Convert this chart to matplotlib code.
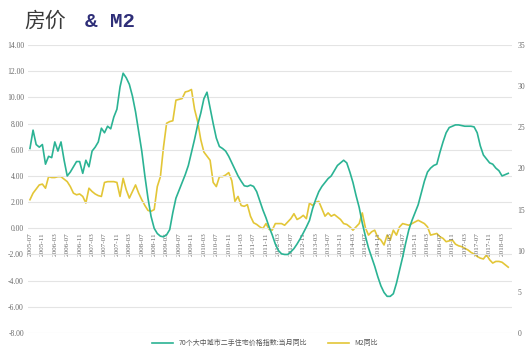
import matplotlib
matplotlib.use('Agg')
import matplotlib.pyplot as plt
import numpy as np

# monthly, 2005-07 .. 2018-05
start_year, start_month = 2005, 7

# 70个大中城市二手住宅价格指数:当月同比 (left axis, %)
house_yoy = [
    6.1, 7.5, 6.4, 6.2, 6.4, 4.9, 5.5, 5.4, 6.6, 5.9,
    6.6, 5.2, 4.0, 4.3, 4.7, 5.1, 5.1, 4.2, 5.2, 4.7,
    5.9, 6.2, 6.6, 7.65, 7.3, 7.8, 7.6, 8.5, 9.1, 10.8,
    11.85, 11.5, 11.0, 10.1, 8.9, 7.4, 5.9, 4.0, 2.3, 0.9,
    0.0, -0.4, -0.6, -0.65, -0.5, -0.1, 1.2, 2.3, 2.9, 3.5,
    4.1, 4.8, 5.8, 6.8, 7.9, 8.8, 9.9, 10.4, 9.2, 8.0,
    6.9, 6.25, 6.1, 5.9, 5.5, 5.0, 4.5, 4.0, 3.6, 3.25,
    3.2, 3.3, 3.2, 2.8, 2.1, 1.4, 0.8, 0.1, -0.5, -1.2,
    -1.7, -1.95, -2.0, -2.0, -1.8, -1.55, -1.2, -0.8, -0.36, 0.1,
    0.6, 1.5, 2.2, 2.8, 3.2, 3.5, 3.8, 4.0, 4.4, 4.8,
    5.0, 5.2, 5.0, 4.3, 3.5, 2.5, 1.6, 0.4, -0.6, -1.5,
    -2.2, -2.9, -3.7, -4.4, -4.9, -5.2, -5.2, -5.0, -4.2, -3.2,
    -2.2, -1.1, -0.1, 0.6, 1.2, 1.8, 2.7, 3.6, 4.3, 4.6,
    4.8, 4.9, 5.8, 6.6, 7.3, 7.7, 7.8, 7.9, 7.9, 7.85,
    7.8, 7.8, 7.8, 7.75, 7.3, 6.3, 5.6, 5.3, 5.0, 4.9,
    4.6, 4.4, 4.0, 4.1, 4.2,
]

# M2同比 (right axis, %)
m2_yoy = [
    16.2, 17.0, 17.5, 18.0, 18.1, 17.6, 19.0, 18.9, 18.9, 19.0,
    19.0, 18.7, 18.4, 17.8, 17.0, 16.8, 16.9, 16.6, 15.8, 17.6,
    17.2, 16.9, 16.7, 16.6, 18.3, 18.4, 18.4, 18.4, 18.3, 16.6,
    18.8, 17.4, 16.4, 17.2, 18.0, 17.0, 16.2, 15.5, 14.9, 14.8,
    15.0, 17.8, 19.0, 22.6, 25.5, 25.7, 25.8, 28.3, 28.4, 28.5,
    29.3, 29.4, 29.6, 27.2, 25.7, 23.5, 22.0, 21.5, 21.0, 18.3,
    17.8, 19.0, 19.0, 19.2, 19.5, 18.5, 16.0, 16.6, 15.5, 15.4,
    15.6, 14.2, 13.4, 13.2, 12.9, 12.7, 13.3, 12.6, 12.5, 13.3,
    13.3, 13.3, 13.1, 13.5, 13.9, 14.5, 13.8, 14.0, 14.3, 13.9,
    15.8, 15.5, 15.9, 16.0, 15.1, 14.2, 14.6, 14.2, 14.4, 14.1,
    13.8, 13.3, 13.2, 12.9, 12.5, 12.9, 13.3, 14.6, 12.8, 11.9,
    12.3, 12.5, 11.6, 11.3, 10.7, 11.9, 11.3, 12.5, 11.9, 12.9,
    13.3, 13.2, 13.1, 13.3, 13.5, 13.7, 13.5, 13.3, 12.9, 11.9,
    12.0, 12.1, 11.7, 11.5, 11.1, 11.2, 11.3, 10.8, 10.6, 10.5,
    10.3, 10.1, 9.8, 9.6, 9.3, 9.1, 9.0, 9.5, 8.9, 8.5,
    8.7, 8.7, 8.6, 8.3, 8.0,
]

left_ticks = [-8, -6, -4, -2, 0, 2, 4, 6, 8, 10, 12, 14]
right_ticks = [0, 5, 10, 15, 20, 25, 30, 35]

house_label = '70个大中城市二手住宅价格指数:当月同比'
m2_label = 'M2同比'

GREEN = '#2bb394'
YELLOW = '#e3c637'
TICK_C = '#6a6a6a'

plt.rcParams['font.family'] = ['Noto Sans CJK SC', 'DejaVu Sans']

months = np.arange(len(house_yoy))
labels = []
for i in months:
    y = start_year + (start_month - 1 + i) // 12
    mth = (start_month - 1 + i) % 12 + 1
    labels.append('%d-%02d' % (y, mth))

fig = plt.figure(figsize=(5.3, 3.55), dpi=100)
ax = fig.add_axes([0.053, 0.062, 0.913, 0.811])
ax2 = ax.twinx()

# x axis crosses at 0 -- set this before the tick labels, it resets ticks
ax.spines['bottom'].set_position(('data', 0))
for a in (ax, ax2):
    for s in a.spines.values():
        s.set_visible(False)

ax.set_ylim(-8, 14)
ax.set_yticks(left_ticks)
ax.set_yticklabels(['%.2f' % v for v in left_ticks], family='Liberation Serif',
                   fontsize=5.5, color=TICK_C)
ax.grid(axis='y', color='#e4e4e4', linewidth=0.8)
ax.set_axisbelow(True)

ax2.set_ylim(0, 35)
ax2.set_yticks(right_ticks)
ax2.set_yticklabels([str(v) for v in right_ticks], family='Liberation Serif',
                    fontsize=5.5, color=TICK_C)

ax.set_xlim(-0.6, 155.2)
tick_pos = months[::4]
ax.set_xticks(tick_pos)
ax.set_xticklabels([labels[i] for i in tick_pos], rotation=90,
                   family='Liberation Serif', fontsize=5.2, color=TICK_C)
ax.tick_params(axis='both', length=0, pad=3)
ax2.tick_params(axis='y', length=0, pad=4)

l1, = ax.plot(months, house_yoy, color=GREEN, linewidth=1.2, zorder=3)
l2, = ax2.plot(months, m2_yoy, color=YELLOW, linewidth=1.2, zorder=2)
ax.set_zorder(ax2.get_zorder() + 1)
ax.patch.set_visible(False)

fig.legend([l1, l2], [house_label, m2_label], loc='center',
           bbox_to_anchor=(0.5, 0.033), ncol=2, frameon=False,
           fontsize=5, handlelength=3, columnspacing=3,
           labelcolor='#555555')

fig.text(0.045, 0.925, '房价', fontsize=15, color='#3a3a3a',
         family=['Noto Sans CJK SC', 'DejaVu Sans'])
fig.text(0.16, 0.925, '& M2', fontsize=15, color='#2e2e78',
         family='Liberation Mono', weight='bold')

fig.savefig('out.png', dpi=100)
